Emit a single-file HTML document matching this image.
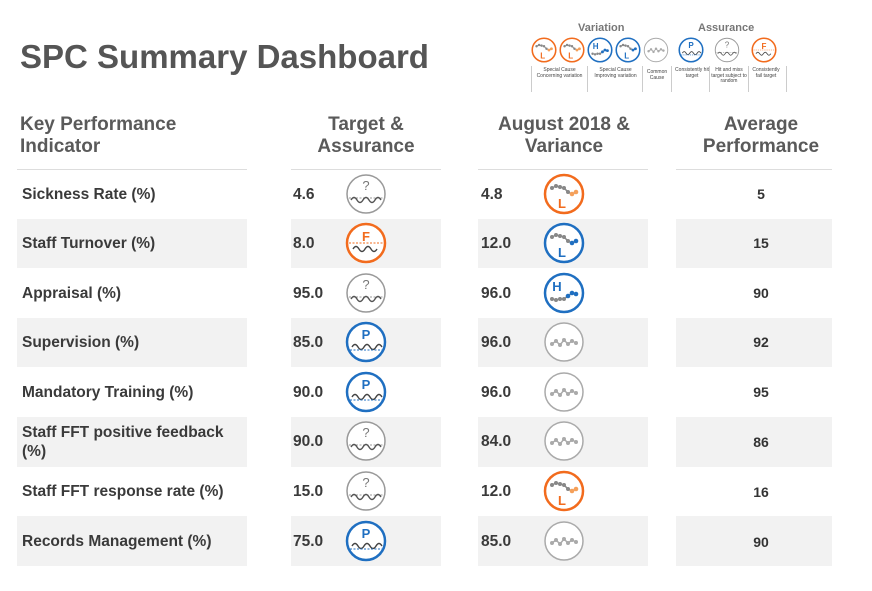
<!DOCTYPE html>
<html><head><meta charset="utf-8"><style>
body{margin:0;width:872px;height:591px;background:#fff;font-family:"Liberation Sans",Arial,sans-serif;position:relative;overflow:hidden}
.a{position:absolute}
.t{left:20px;top:38px;font-size:33px;font-weight:bold;color:#555}
.h{font-size:19px;font-weight:bold;color:#5a5a5a;line-height:22px;text-align:center}
.ln{height:1px;background:#ddd}
.g{background:#f2f2f2}
.k{left:22px;font-size:15.5px;font-weight:bold;color:#3a3a3a;line-height:19px}
.v{font-size:15.5px;font-weight:bold;color:#3a3a3a}
.av{left:676px;width:170px;text-align:center;font-size:14px;font-weight:bold;color:#333}
svg.i{position:absolute;width:42px;height:42px}
.lg{font-size:5px;color:#444;text-align:center;line-height:5.5px}
</style></head><body>
<svg width="0" height="0" style="position:absolute">
<defs>
<symbol id="q" viewBox="0 0 42 42"><circle cx="21" cy="21" r="19" fill="#fff" stroke="#999" stroke-width="1.5"/><text x="21" y="17" font-size="13" text-anchor="middle" fill="#777" font-family="Liberation Sans">?</text><line x1="4" y1="25" x2="38" y2="25" stroke="#999" stroke-dasharray="2 1.5"/><path d="M6 27q3-5 6 0t6 0 6 0 6 0 6 0" fill="none" stroke="#555" stroke-width="1.4"/></symbol>
<symbol id="f" viewBox="0 0 42 42"><circle cx="21" cy="21" r="19" fill="#fff" stroke="#f26b1d" stroke-width="2.5"/><text x="21" y="19" font-size="13" font-weight="bold" text-anchor="middle" fill="#f26b1d" font-family="Liberation Sans">F</text><line x1="4" y1="21" x2="38" y2="21" stroke="#f26b1d" stroke-dasharray="2 1.5"/><path d="M8 27q3-5 6 0t6 0 6 0 6 0" fill="none" stroke="#444" stroke-width="1.4"/></symbol>
<symbol id="p" viewBox="0 0 42 42"><circle cx="21" cy="21" r="19" fill="#fff" stroke="#1f6fc1" stroke-width="2.5"/><text x="21" y="18" font-size="13" font-weight="bold" text-anchor="middle" fill="#1f6fc1" font-family="Liberation Sans">P</text><path d="M7 26q3-5 6 0t6 0 6 0 6 0 6 0" fill="none" stroke="#444" stroke-width="1.4"/><line x1="5" y1="29" x2="37" y2="29" stroke="#1f6fc1" stroke-dasharray="2 1.5"/></symbol>
<symbol id="lo" viewBox="0 0 42 42"><circle cx="21" cy="21" r="19" fill="#fff" stroke="#f26b1d" stroke-width="2.5"/><path d="M9 15l4-2 4 1 4 1 4 4 4 2 4-2" fill="none" stroke="#888" stroke-width="1.5"/><g fill="#888"><circle cx="9" cy="15" r="2"/><circle cx="13" cy="13" r="2"/><circle cx="17" cy="14" r="2"/><circle cx="21" cy="15" r="2"/><circle cx="25" cy="19" r="2"/></g><g fill="#f5a05a"><circle cx="29" cy="21" r="2.3"/><circle cx="33" cy="19" r="2.3"/></g><text x="19" y="35" font-size="13" font-weight="bold" text-anchor="middle" fill="#f26b1d" font-family="Liberation Sans">L</text></symbol>
<symbol id="lb" viewBox="0 0 42 42"><circle cx="21" cy="21" r="19" fill="#fff" stroke="#1f6fc1" stroke-width="2.5"/><path d="M9 15l4-2 4 1 4 1 4 4 4 2 4-2" fill="none" stroke="#888" stroke-width="1.5"/><g fill="#888"><circle cx="9" cy="15" r="2"/><circle cx="13" cy="13" r="2"/><circle cx="17" cy="14" r="2"/><circle cx="21" cy="15" r="2"/><circle cx="25" cy="19" r="2"/></g><g fill="#1f6fc1"><circle cx="29" cy="21" r="2.3"/><circle cx="33" cy="19" r="2.3"/></g><text x="19" y="35" font-size="13" font-weight="bold" text-anchor="middle" fill="#1f6fc1" font-family="Liberation Sans">L</text></symbol>
<symbol id="hb" viewBox="0 0 42 42"><circle cx="21" cy="21" r="19" fill="#fff" stroke="#1f6fc1" stroke-width="2.5"/><text x="14" y="19" font-size="13" font-weight="bold" text-anchor="middle" fill="#1f6fc1" font-family="Liberation Sans">H</text><path d="M9 27l4 1 4-1 4 0 4-3 4-3 4 1" fill="none" stroke="#888" stroke-width="1.5"/><g fill="#888"><circle cx="9" cy="27" r="2"/><circle cx="13" cy="28" r="2"/><circle cx="17" cy="27" r="2"/><circle cx="21" cy="27" r="2"/></g><g fill="#1f6fc1"><circle cx="25" cy="24" r="2.3"/><circle cx="29" cy="21" r="2.3"/><circle cx="33" cy="22" r="2.3"/></g></symbol>
<symbol id="c" viewBox="0 0 42 42"><circle cx="21" cy="21" r="19" fill="#fff" stroke="#aaa" stroke-width="1.5"/><path d="M9 23l4-3 4 4 4-5 4 4 4-3 4 2" fill="none" stroke="#aaa" stroke-width="1.5"/><g fill="#aaa"><circle cx="9" cy="23" r="2"/><circle cx="13" cy="20" r="2"/><circle cx="17" cy="24" r="2"/><circle cx="21" cy="19" r="2"/><circle cx="25" cy="23" r="2"/><circle cx="29" cy="20" r="2"/><circle cx="33" cy="22" r="2"/></g></symbol>
</defs></svg>

<div class="a t">SPC Summary Dashboard</div>

<!-- legend -->
<div class="a" style="left:578px;top:22px;font-size:11px;font-weight:bold;color:#777">Variation</div>
<div class="a" style="left:698px;top:22px;font-size:11px;font-weight:bold;color:#777">Assurance</div>
<svg class="i" style="left:531px;top:37px;width:26px;height:26px"><use href="#lo"/></svg>
<svg class="i" style="left:559px;top:37px;width:26px;height:26px"><use href="#lo"/></svg>
<svg class="i" style="left:587px;top:37px;width:26px;height:26px"><use href="#hb"/></svg>
<svg class="i" style="left:615px;top:37px;width:26px;height:26px"><use href="#lb"/></svg>
<svg class="i" style="left:643px;top:37px;width:26px;height:26px"><use href="#c"/></svg>
<svg class="i" style="left:678px;top:37px;width:26px;height:26px"><use href="#p"/></svg>
<svg class="i" style="left:714px;top:37px;width:26px;height:26px"><use href="#q"/></svg>
<svg class="i" style="left:751px;top:37px;width:26px;height:26px"><use href="#f"/></svg>
<div class="a lg" style="left:532px;top:68px;width:55px">Special Cause Concerning variation</div>
<div class="a lg" style="left:588px;top:68px;width:55px">Special Cause Improving variation</div>
<div class="a lg" style="left:643px;top:70px;width:28px">Common Cause</div>
<div class="a lg" style="left:675px;top:68px;width:34px">Consistently hit target</div>
<div class="a lg" style="left:710px;top:68px;width:38px">Hit and miss target subject to random</div>
<div class="a lg" style="left:749px;top:68px;width:34px">Consistently fail target</div>
<div class="a" style="left:531px;top:66px;width:1px;height:26px;background:#ccc"></div>
<div class="a" style="left:587px;top:66px;width:1px;height:26px;background:#ccc"></div>
<div class="a" style="left:642px;top:66px;width:1px;height:26px;background:#ccc"></div>
<div class="a" style="left:671px;top:66px;width:1px;height:26px;background:#ccc"></div>
<div class="a" style="left:709px;top:66px;width:1px;height:26px;background:#ccc"></div>
<div class="a" style="left:748px;top:66px;width:1px;height:26px;background:#ccc"></div>
<div class="a" style="left:786px;top:66px;width:1px;height:26px;background:#ccc"></div>

<!-- headers -->
<div class="a h" style="left:20px;top:114px;text-align:left">Key Performance<br>Indicator</div>
<div class="a h" style="left:291px;top:114px;width:150px">Target &amp;<br>Assurance</div>
<div class="a h" style="left:478px;top:114px;width:172px">August 2018 &amp;<br>Variance</div>
<div class="a h" style="left:676px;top:114px;width:170px">Average<br>Performance</div>
<div class="a ln" style="left:17px;top:169px;width:230px"></div>
<div class="a ln" style="left:291px;top:169px;width:150px"></div>
<div class="a ln" style="left:478px;top:169px;width:170px"></div>
<div class="a ln" style="left:676px;top:169px;width:156px"></div>

<!-- gray bands -->
<div class="a g" style="left:17px;top:219px;width:230px;height:49px"></div>
<div class="a g" style="left:291px;top:219px;width:150px;height:49px"></div>
<div class="a g" style="left:478px;top:219px;width:170px;height:49px"></div>
<div class="a g" style="left:676px;top:219px;width:156px;height:49px"></div>
<div class="a g" style="left:17px;top:318px;width:230px;height:49px"></div>
<div class="a g" style="left:291px;top:318px;width:150px;height:49px"></div>
<div class="a g" style="left:478px;top:318px;width:170px;height:49px"></div>
<div class="a g" style="left:676px;top:318px;width:156px;height:49px"></div>
<div class="a g" style="left:17px;top:417px;width:230px;height:50px"></div>
<div class="a g" style="left:291px;top:417px;width:150px;height:50px"></div>
<div class="a g" style="left:478px;top:417px;width:170px;height:50px"></div>
<div class="a g" style="left:676px;top:417px;width:156px;height:50px"></div>
<div class="a g" style="left:17px;top:516px;width:230px;height:50px"></div>
<div class="a g" style="left:291px;top:516px;width:150px;height:50px"></div>
<div class="a g" style="left:478px;top:516px;width:170px;height:50px"></div>
<div class="a g" style="left:676px;top:516px;width:156px;height:50px"></div>

<!-- rows -->
<div class="a k" style="top:185px">Sickness Rate (%)</div>
<div class="a v" style="left:293px;top:186px">4.6</div><svg class="i" style="left:345px;top:173px"><use href="#q"/></svg>
<div class="a v" style="left:481px;top:186px">4.8</div><svg class="i" style="left:543px;top:173px"><use href="#lo"/></svg>
<div class="a av" style="top:186px">5</div>

<div class="a k" style="top:234px">Staff Turnover (%)</div>
<div class="a v" style="left:293px;top:235px">8.0</div><svg class="i" style="left:345px;top:222px"><use href="#f"/></svg>
<div class="a v" style="left:481px;top:235px">12.0</div><svg class="i" style="left:543px;top:222px"><use href="#lb"/></svg>
<div class="a av" style="top:235px">15</div>

<div class="a k" style="top:284px">Appraisal (%)</div>
<div class="a v" style="left:293px;top:285px">95.0</div><svg class="i" style="left:345px;top:272px"><use href="#q"/></svg>
<div class="a v" style="left:481px;top:285px">96.0</div><svg class="i" style="left:543px;top:272px"><use href="#hb"/></svg>
<div class="a av" style="top:285px">90</div>

<div class="a k" style="top:333px">Supervision (%)</div>
<div class="a v" style="left:293px;top:334px">85.0</div><svg class="i" style="left:345px;top:321px"><use href="#p"/></svg>
<div class="a v" style="left:481px;top:334px">96.0</div><svg class="i" style="left:543px;top:321px"><use href="#c"/></svg>
<div class="a av" style="top:334px">92</div>

<div class="a k" style="top:383px">Mandatory Training (%)</div>
<div class="a v" style="left:293px;top:384px">90.0</div><svg class="i" style="left:345px;top:371px"><use href="#p"/></svg>
<div class="a v" style="left:481px;top:384px">96.0</div><svg class="i" style="left:543px;top:371px"><use href="#c"/></svg>
<div class="a av" style="top:384px">95</div>

<div class="a k" style="top:423px">Staff FFT positive feedback<br>(%)</div>
<div class="a v" style="left:293px;top:433px">90.0</div><svg class="i" style="left:345px;top:420px"><use href="#q"/></svg>
<div class="a v" style="left:481px;top:433px">84.0</div><svg class="i" style="left:543px;top:420px"><use href="#c"/></svg>
<div class="a av" style="top:434px">86</div>

<div class="a k" style="top:482px">Staff FFT response rate (%)</div>
<div class="a v" style="left:293px;top:483px">15.0</div><svg class="i" style="left:345px;top:470px"><use href="#q"/></svg>
<div class="a v" style="left:481px;top:483px">12.0</div><svg class="i" style="left:543px;top:470px"><use href="#lo"/></svg>
<div class="a av" style="top:484px">16</div>

<div class="a k" style="top:532px">Records Management (%)</div>
<div class="a v" style="left:293px;top:533px">75.0</div><svg class="i" style="left:345px;top:520px"><use href="#p"/></svg>
<div class="a v" style="left:481px;top:533px">85.0</div><svg class="i" style="left:543px;top:520px"><use href="#c"/></svg>
<div class="a av" style="top:534px">90</div>
</body></html>
